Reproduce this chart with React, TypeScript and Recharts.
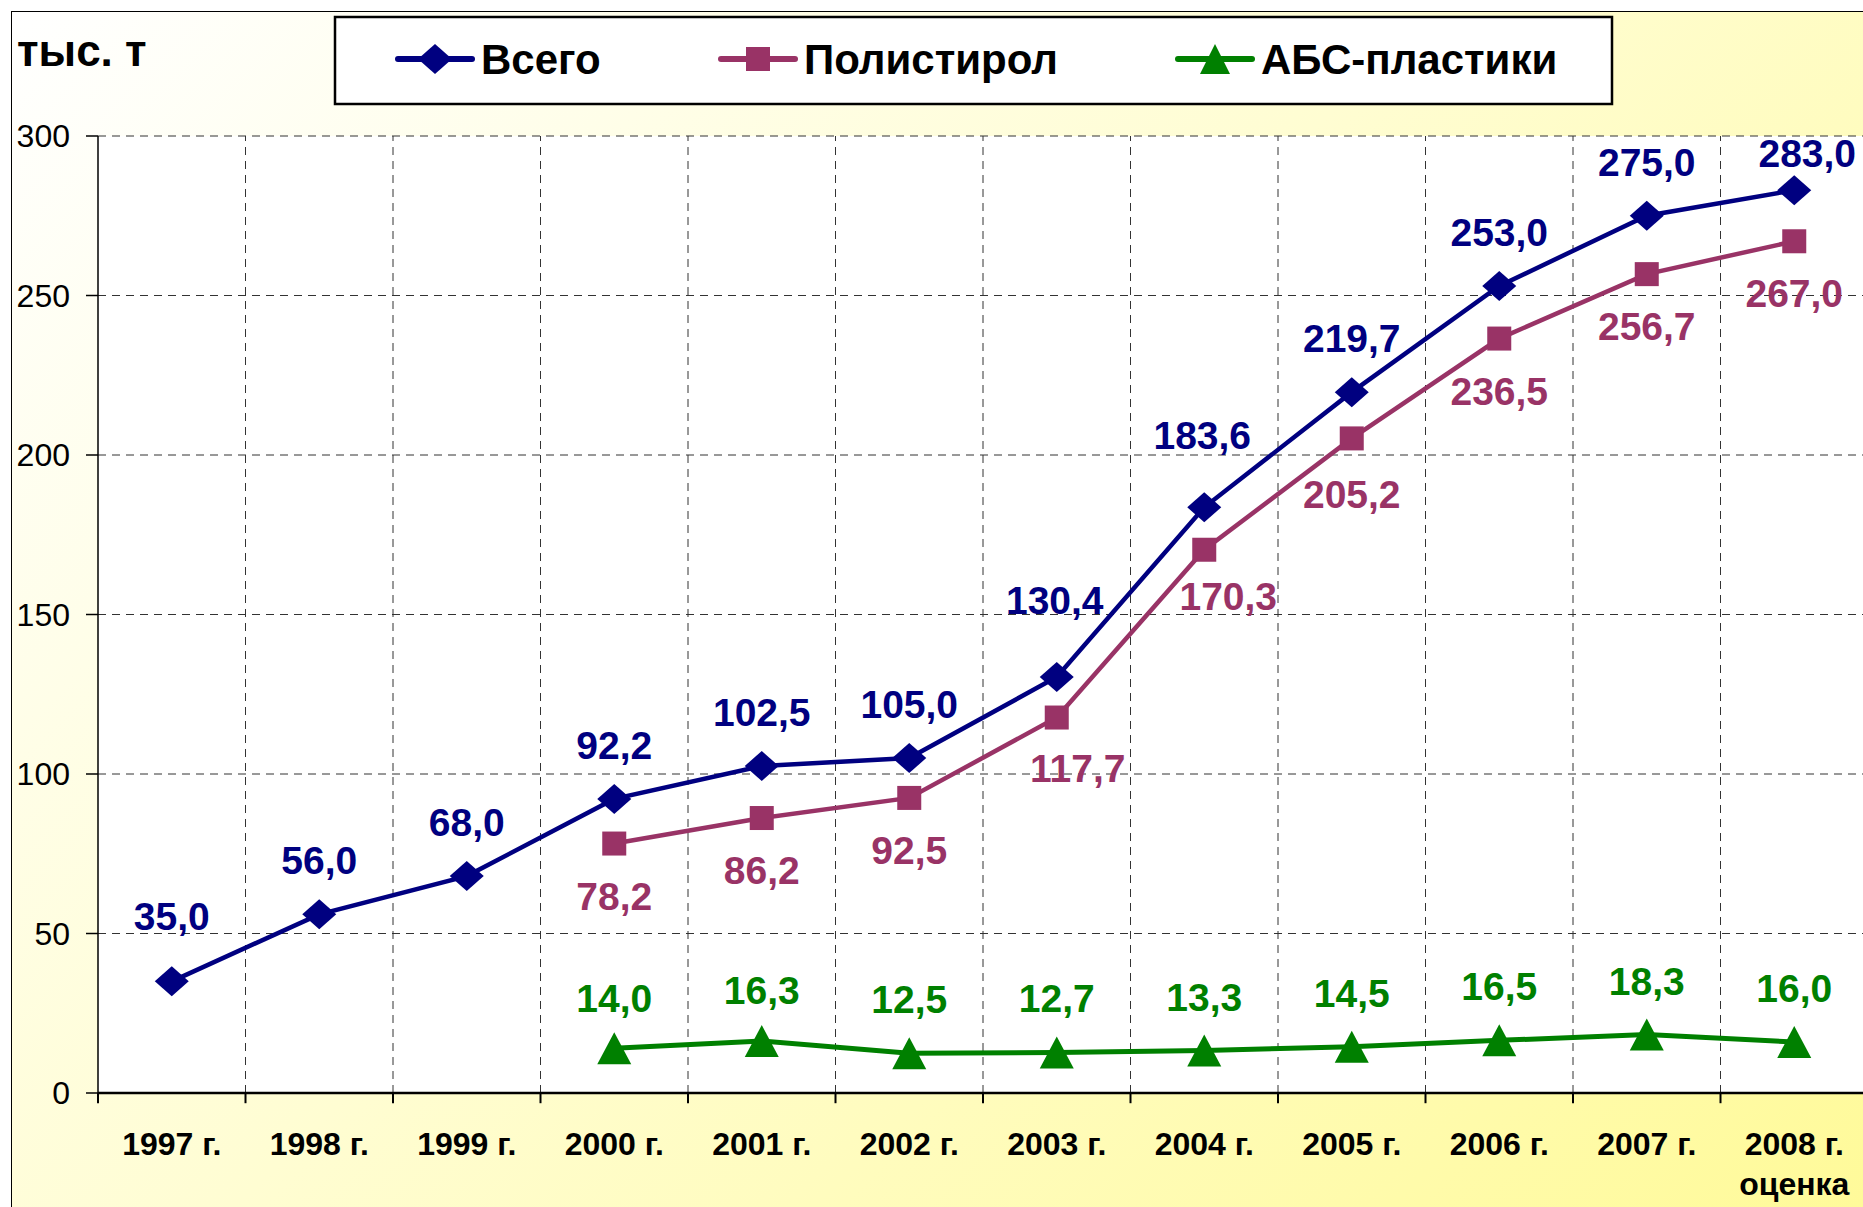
import { LineChart, Line, XAxis, YAxis, CartesianGrid, ReferenceLine, LabelList } from 'recharts'

const years = ['1997 г.', '1998 г.', '1999 г.', '2000 г.', '2001 г.', '2002 г.', '2003 г.', '2004 г.', '2005 г.', '2006 г.', '2007 г.', '2008 г.']
const estimateNote = 'оценка'
const total = [35.0, 56.0, 68.0, 92.2, 102.5, 105.0, 130.4, 183.6, 219.7, 253.0, 275.0, 283.0]
const polystyrene = [null, null, null, 78.2, 86.2, 92.5, 117.7, 170.3, 205.2, 236.5, 256.7, 267.0]
const absPlastics = [null, null, null, 14.0, 16.3, 12.5, 12.7, 13.3, 14.5, 16.5, 18.3, 16.0]
const yTicks = [0, 50, 100, 150, 200, 250, 300]
const unitLabel = 'тыс. т'

const data = years.map((year, i) => ({
  year,
  total: total[i],
  polystyrene: polystyrene[i],
  abs: absPlastics[i],
}))

const NAVY = '#000080'
const PLUM = '#993366'
const GREEN = '#008000'
const FONT = '"Liberation Sans", Arial, sans-serif'

const fmt = (v: number) => v.toFixed(1).replace('.', ',')

// markers, drawn around the point the library gives us
function diamond(cx: number, cy: number, color: string, w = 17, h = 15) {
  return <path d={`M${cx} ${cy - h} L${cx + w} ${cy} L${cx} ${cy + h} L${cx - w} ${cy} Z`} fill={color} />
}
function square(cx: number, cy: number, color: string, s = 12) {
  return <rect x={cx - s} y={cy - s} width={s * 2} height={s * 2} fill={color} />
}
function triangle(cx: number, cy: number, color: string, w = 17, h = 16) {
  return <path d={`M${cx} ${cy - h} L${cx + w} ${cy + h} L${cx - w} ${cy + h} Z`} fill={color} />
}

const makeDot = (draw: (cx: number, cy: number, c: string) => any, color: string) => (props: any) => {
  const { cx, cy, index } = props
  if (cx == null || cy == null || props.value == null || props.payload == null) return <g key={index} />
  return <g key={index}>{draw(cx, cy, color)}</g>
}

// label nudges (dx, baseline offset from point)
const totalShift: Record<number, [number, number]> = { 0: [0, -51], 6: [-2, -63], 7: [-2, -58], 11: [13, -23] }
const polyShift: Record<number, [number, number]> = { 6: [21, 64], 7: [24, 60], 8: [0, 70] }
const absShift: Record<number, [number, number]> = { 3: [0, -36], 4: [0, -37] }

const makeLabel = (color: string, shifts: Record<number, [number, number]>, def: [number, number]) => (props: any) => {
  const { value, index } = props
  const vb = props.viewBox || {}
  const x = props.x ?? vb.x
  const y = props.y ?? vb.y
  if (value == null || x == null || y == null) return null
  const [dx, dy] = shifts[index] ?? def
  return (
    <text x={x + dx} y={y + dy} textAnchor="middle" fill={color} fontSize={39} fontWeight="bold" fontFamily={FONT}>
      {fmt(value)}
    </text>
  )
}

function YearTick({ x, y, payload, index }: any) {
  return (
    <g>
      <text x={x} y={y + 62} textAnchor="middle" fontSize={32} fontWeight="bold" fontFamily={FONT} fill="#000">
        {payload.value}
      </text>
      {index === years.length - 1 && (
        <text x={x} y={y + 102} textAnchor="middle" fontSize={32} fontWeight="bold" fontFamily={FONT} fill="#000">
          {estimateNote}
        </text>
      )}
    </g>
  )
}

const legendItems = [
  { name: 'Всего', color: NAVY, draw: diamond, x: 398 },
  { name: 'Полистирол', color: PLUM, draw: square, x: 721 },
  { name: 'АБС-пластики', color: GREEN, draw: (cx: number, cy: number, c: string) => triangle(cx, cy, c, 15, 15), x: 1178 },
]

export default function App() {
  return (
    <div style={{ position: 'fixed', left: 0, top: 0, width: 1863, height: 1207, overflow: 'hidden', background: '#fff', fontFamily: FONT }}>
      <div
        style={{
          position: 'absolute',
          left: 11,
          top: 11,
          width: 1900,
          height: 1250,
          border: '1.5px solid #000',
          background: 'linear-gradient(135deg, #ffffff 0%, #fffdd2 45%, #fffa96 100%)',
        }}
      />
      <div style={{ position: 'absolute', left: 0, top: 0 }}>
        <LineChart width={1900} height={1207} data={data} margin={{ top: 136, right: 32, bottom: 0, left: 0 }}>
          <CartesianGrid vertical={false} stroke="#333" strokeDasharray="8 6" fill="#fff" />
          {years.slice(1).map((yr) => (
            <ReferenceLine key={'g' + yr} x={yr} position="start" stroke="#333" strokeDasharray="8 6" />
          ))}
          {years.map((yr) => (
            <ReferenceLine
              key={'t' + yr}
              segment={[{ x: yr, y: 0 }, { x: yr, y: -3.2 }]}
              position="start"
              stroke="#000"
              strokeWidth={2}
              ifOverflow="visible"
            />
          ))}
          <XAxis
            dataKey="year"
            scale="band"
            height={114}
            tickLine={false}
            tickSize={0}
            tickMargin={0}
            axisLine={{ stroke: '#000', strokeWidth: 2.5 }}
            tick={<YearTick />}
            interval={0}
          />
          <YAxis
            width={98}
            domain={[0, 300]}
            ticks={yTicks}
            tickSize={12}
            tickMargin={16}
            axisLine={{ stroke: '#000', strokeWidth: 1.5 }}
            tickLine={{ stroke: '#000', strokeWidth: 1.5 }}
            tick={{ fill: '#000', fontSize: 32, fontFamily: FONT }}
          />
          <Line
            dataKey="total"
            stroke={NAVY}
            strokeWidth={4.5}
            isAnimationActive={false}
            dot={makeDot(diamond, NAVY)}
          >
            <LabelList dataKey="total" content={makeLabel(NAVY, totalShift, [0, -40])} />
          </Line>
          <Line
            dataKey="polystyrene"
            stroke={PLUM}
            strokeWidth={4.5}
            isAnimationActive={false}
            dot={makeDot(square, PLUM)}
          >
            <LabelList dataKey="polystyrene" content={makeLabel(PLUM, polyShift, [0, 66])} />
          </Line>
          <Line
            dataKey="abs"
            stroke={GREEN}
            strokeWidth={5}
            isAnimationActive={false}
            dot={makeDot(triangle, GREEN)}
          >
            <LabelList dataKey="abs" content={makeLabel(GREEN, absShift, [0, -40])} />
          </Line>
        </LineChart>
      </div>
      <svg width={1863} height={120} style={{ position: 'absolute', left: 0, top: 0 }}>
        <text x={17} y={66} fontSize={44} fontWeight="bold" fontFamily={FONT} fill="#000">
          {unitLabel}
        </text>
        <rect x={335} y={17} width={1277} height={87} fill="#fff" stroke="#000" strokeWidth={2.5} />
        {legendItems.map((it) => (
          <g key={it.name}>
            <line x1={it.x} x2={it.x + 74} y1={59} y2={59} stroke={it.color} strokeWidth={6} strokeLinecap="round" />
            {it.draw(it.x + 37, 59, it.color)}
            <text x={it.x + 83} y={74} fontSize={42} fontWeight="bold" fontFamily={FONT} fill="#000">
              {it.name}
            </text>
          </g>
        ))}
      </svg>
    </div>
  )
}
